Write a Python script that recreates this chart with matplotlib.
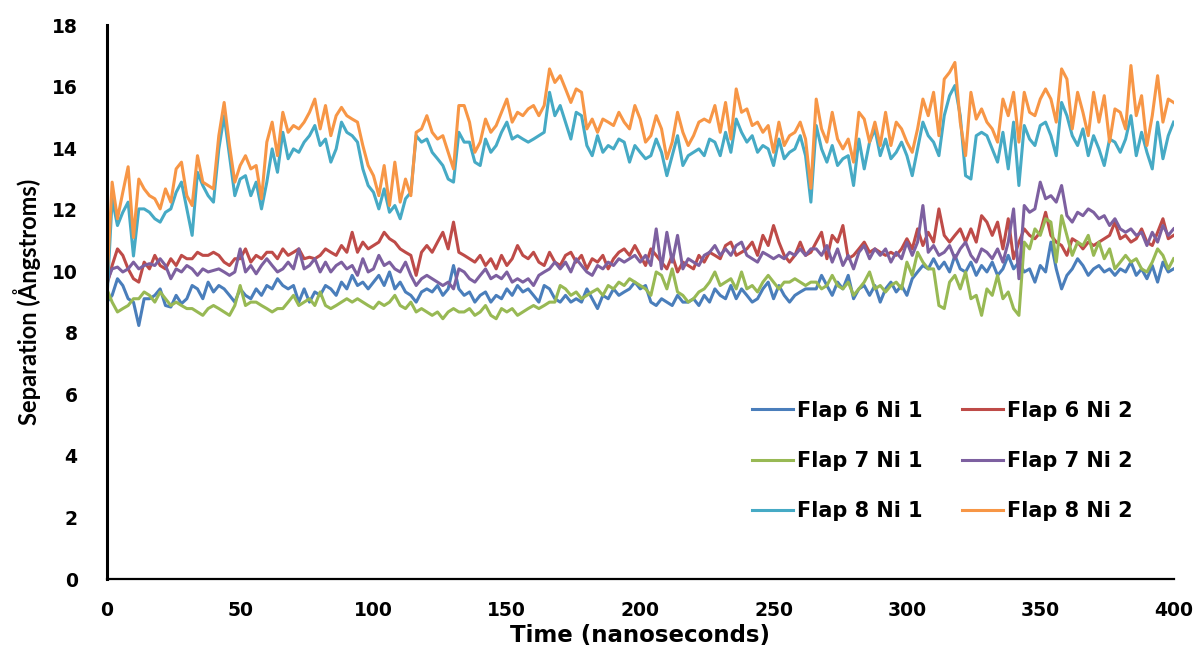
import numpy as np
import matplotlib
matplotlib.use("Agg")
import matplotlib.pyplot as plt

# time axis: one reading every 2 ns
time_ns = np.arange(0, 401, 2)

flap6_ni1 = [
    9.0, 9.22, 9.76, 9.54, 9.11, 9.0, 8.24, 9.11, 9.11, 9.22, 9.43, 8.89, 8.84, 9.22, 8.95, 9.11, 9.54,
    9.43, 9.11, 9.65, 9.33, 9.54, 9.43, 9.22, 9.0, 9.43, 9.22, 9.11, 9.43, 9.22, 9.54, 9.43, 9.76,
    9.54, 9.43, 9.54, 9.0, 9.43, 9.0, 9.33, 9.22, 9.54, 9.43, 9.22, 9.65, 9.43, 9.87, 9.54, 9.65, 9.43,
    9.65, 9.87, 9.54, 9.98, 9.43, 9.65, 9.33, 9.22, 9.0, 9.33, 9.43, 9.33, 9.54, 9.22, 9.43, 10.19, 9.43,
    9.22, 9.33, 9.0, 9.22, 9.33, 9.0, 9.22, 9.11, 9.43, 9.22, 9.54, 9.33, 9.43, 9.22, 9.0, 9.54, 9.43,
    9.11, 9.0, 9.22, 9.0, 9.11, 9.0, 9.43, 9.11, 8.79, 9.22, 9.11, 9.43, 9.22, 9.33, 9.43, 9.65,
    9.43, 9.54, 9.0, 8.89, 9.11, 9.0, 8.89, 9.22, 9.0, 9.0, 9.11, 8.89, 9.22, 9.0, 9.43, 9.22, 9.11,
    9.54, 9.11, 9.43, 9.22, 9.0, 9.11, 9.43, 9.65, 9.11, 9.54, 9.22, 9.0, 9.22, 9.33, 9.43, 9.43,
    9.43, 9.87, 9.54, 9.22, 9.65, 9.43, 9.87, 9.11, 9.43, 9.54, 9.22, 9.54, 9.0, 9.43, 9.65, 9.33,
    9.54, 9.22, 9.76, 9.98, 10.19, 10.08, 10.41, 10.08, 10.3, 9.98, 10.52, 10.08, 9.98, 10.3, 9.87, 10.19,
    9.98, 10.3, 9.87, 10.08, 10.52, 10.08, 10.3, 9.98, 10.08, 9.65, 10.19, 9.98, 10.95, 10.08, 9.43, 9.87,
    10.08, 10.41, 10.19, 9.87, 10.08, 10.19, 9.98, 10.08, 9.87, 10.08, 9.98, 10.3, 9.87, 10.08, 9.76,
    10.19, 9.65, 10.3, 9.98, 10.08,
]
flap6_ni2 = [
    9.54, 10.19, 10.73, 10.52, 10.08, 9.76, 9.65, 10.3, 10.08, 10.52, 10.19, 10.08, 10.41, 10.19, 10.52,
    10.41, 10.41, 10.62, 10.52, 10.52, 10.62, 10.52, 10.3, 10.19, 10.41, 10.41, 10.73, 10.3, 10.52, 10.41,
    10.62, 10.62, 10.41,
    10.73, 10.52, 10.62, 10.73, 10.41, 10.46, 10.41, 10.52, 10.73, 10.62, 10.52, 10.84, 10.62, 11.27, 10.62,
    10.95, 10.73, 10.84, 10.95, 11.27, 11.06, 10.95, 10.73, 10.62, 10.52, 9.87, 10.62, 10.84, 10.62, 10.95,
    11.27, 10.73, 11.6, 10.62,
    10.52, 10.41, 10.3, 10.52, 10.19, 10.41, 10.08, 10.52, 10.19, 10.41, 10.84, 10.52, 10.41, 10.62, 10.3,
    10.19, 10.62, 10.3, 10.19, 10.52, 10.62, 10.3, 10.52, 10.08, 10.41, 10.3, 10.52, 10.08, 10.41, 10.62,
    10.73, 10.52, 10.84,
    10.52, 10.19, 10.73, 10.52, 10.3, 10.08, 10.52, 9.98, 10.3, 10.19, 10.08, 10.52, 10.3, 10.62, 10.52,
    10.41, 10.84, 10.95, 10.52, 10.62, 10.73, 10.95, 10.52, 11.17, 10.84, 11.49, 10.95, 10.52, 10.3, 10.52,
    10.95, 10.52, 10.62,
    10.95, 11.27, 10.41, 11.17, 10.95, 11.49, 10.41, 10.52, 10.73, 10.95, 10.62, 10.73, 10.62, 10.52, 10.62,
    10.52, 10.73, 11.06, 10.73, 11.38, 10.84, 11.27, 10.95, 12.03, 11.17, 10.95, 11.17, 11.38, 10.95, 11.38,
    10.95, 11.81,
    11.6, 11.17, 11.6, 10.73, 11.71, 10.41, 10.95, 11.38, 11.17, 11.06, 11.27, 11.92, 11.17, 10.95, 10.84,
    10.52, 11.06, 10.95, 10.73, 10.95, 10.84, 10.95, 11.06, 11.17, 11.6, 11.06, 11.17, 10.95, 11.06, 11.38,
    10.95, 10.84, 11.27, 11.71, 11.06, 11.17,
]
flap7_ni1 = [
    9.43, 9.0, 8.68, 8.79, 8.89, 9.11, 9.11, 9.33, 9.22, 9.0, 9.33, 9.11, 8.89, 9.0, 8.89, 8.79, 8.79,
    8.68, 8.57, 8.79, 8.89, 8.79, 8.68, 8.57, 8.89, 9.54, 8.89, 9.0, 9.0, 8.89, 8.79, 8.68, 8.79,
    8.79, 9.0, 9.22, 8.89, 9.0, 9.11, 8.89, 9.33, 8.89, 8.79, 8.89, 9.0, 9.11, 9.0, 9.11, 9.0, 8.89,
    8.79, 9.0, 8.89, 9.0, 9.22, 8.89, 8.79, 9.0, 8.68, 8.79, 8.68, 8.57, 8.68, 8.46, 8.68, 8.79, 8.68,
    8.68, 8.79, 8.57, 8.68, 8.89, 8.57, 8.46, 8.79, 8.68, 8.79, 8.57, 8.68, 8.79, 8.89, 8.79, 8.89,
    9.0, 9.0, 9.54, 9.43, 9.22, 9.33, 9.11, 9.22, 9.33, 9.43, 9.22, 9.54, 9.43, 9.65, 9.54, 9.76, 9.65,
    9.54, 9.43, 9.22, 9.98, 9.87, 9.43, 10.08, 9.33, 9.22, 9.0, 9.11, 9.33, 9.43, 9.65, 9.98, 9.54,
    9.65, 9.76, 9.43, 9.98, 9.43, 9.54, 9.33, 9.65, 9.87, 9.65, 9.43, 9.65, 9.65, 9.76, 9.65, 9.54, 9.65,
    9.65, 9.43, 9.54, 9.87, 9.54, 9.43, 9.65, 9.22, 9.43, 9.65, 9.98, 9.43, 9.54, 9.33, 9.54, 9.65,
    9.43, 10.3, 9.87, 10.62, 10.3, 10.08, 10.08, 8.89, 8.79, 9.65, 9.87, 9.43, 9.98, 9.11, 9.22, 8.57,
    9.43, 9.22, 9.87, 9.11, 9.33, 8.79, 8.57, 10.95, 10.73, 11.38, 11.17, 11.71, 11.6, 10.3, 11.81, 11.17,
    10.52, 10.95, 10.84, 11.17, 10.52, 10.95, 10.41, 10.73, 10.08, 10.3, 10.52, 10.3, 10.41, 10.08, 9.98,
    10.3, 10.73, 10.52, 10.08, 10.41,
]
flap7_ni2 = [
    9.65, 10.08, 10.14, 9.98, 10.08, 10.3, 10.08, 10.19, 10.25, 10.19, 10.41, 10.19, 9.76, 10.08, 9.98,
    10.19, 10.08, 9.87, 10.08, 9.98, 10.03, 10.08, 9.98, 9.87, 9.98, 10.73, 9.98, 10.19, 9.92, 10.19,
    10.41, 10.19, 9.98,
    10.08, 10.3, 10.08, 10.73, 10.08, 10.19, 10.41, 9.98, 10.3, 9.98, 10.19, 10.3, 10.08, 10.19, 9.87,
    10.41, 9.98, 10.08, 10.52, 10.19, 10.3, 10.08, 9.98, 10.3, 9.87, 9.54, 9.76, 9.87, 9.76, 9.65, 9.54,
    9.65, 9.43, 10.08,
    9.98, 9.76, 9.65, 9.87, 10.08, 9.76, 9.87, 9.76, 9.98, 9.65, 9.76, 9.65, 9.76, 9.54, 9.87, 9.98,
    10.08, 10.3, 10.08, 10.3, 9.98, 10.41, 10.19, 9.98, 9.87, 10.19, 10.08, 10.3, 10.19, 10.41, 10.3,
    10.41, 10.52,
    10.3, 10.52, 10.19, 11.38, 10.08, 11.27, 10.3, 11.17, 10.08, 10.41, 10.3, 10.19, 10.52, 10.62, 10.84,
    10.52, 10.73, 10.52, 10.84, 10.95, 10.52, 10.41, 10.3, 10.62, 10.52, 10.41, 10.52, 10.41, 10.62, 10.52,
    10.73, 10.52, 10.73,
    10.73, 10.52, 10.84, 10.3, 10.73, 10.19, 10.52, 10.08, 10.62, 10.84, 10.41, 10.73, 10.52, 10.73, 10.3,
    10.62, 10.41, 10.95, 10.52, 10.95, 12.14, 10.62, 10.84, 10.52, 10.62, 10.84, 10.41, 10.73, 10.95, 10.52,
    10.3, 10.73,
    10.62, 10.41, 10.73, 10.3, 10.95, 12.03, 9.76, 12.14, 11.92, 12.03, 12.9, 12.36, 12.46, 12.25, 12.79,
    11.81, 11.6, 11.92, 11.81, 12.03, 11.92, 11.71, 11.81, 11.49, 11.71, 11.38, 11.27, 11.38, 11.17, 11.27,
    10.84, 11.27, 10.95, 11.49, 11.17, 11.38,
]
flap8_ni1 = [
    9.0, 12.36, 11.49, 11.92, 12.25, 10.5, 12.03, 12.03, 11.92, 11.71, 11.6, 11.92, 12.03, 12.57, 12.9,
    12.03, 11.17, 13.22, 12.79, 12.46, 12.25, 13.98, 15.06, 13.76, 12.46, 13.0, 13.11, 12.46, 12.9, 12.03,
    12.9, 13.98, 13.22,
    14.52, 13.66, 13.98, 13.87, 14.2, 14.41, 14.74, 14.09, 14.3, 13.55, 13.98, 14.85, 14.52, 14.41, 14.2,
    13.33, 12.79, 12.57, 12.03, 12.68, 11.92, 12.14, 11.71, 12.36, 12.57, 14.41, 14.2, 14.3, 13.87, 13.66,
    13.44, 13.0, 12.9, 14.52,
    14.2, 14.2, 13.55, 13.44, 14.3, 13.87, 14.09, 14.52, 14.85, 14.3, 14.41, 14.3, 14.2, 14.3, 14.41,
    14.52, 15.82, 15.06, 15.39, 14.85, 14.3, 15.17, 15.06, 14.09, 13.76, 14.41, 13.87, 14.09, 13.98, 14.3,
    14.2, 13.55, 14.09,
    13.87, 13.66, 13.76, 14.3, 13.87, 13.11, 13.76, 14.41, 13.44, 13.76, 13.87, 13.98, 13.76, 14.3, 14.2,
    13.76, 14.52, 13.87, 14.95, 14.52, 14.2, 14.41, 13.87, 14.09, 13.98, 13.44, 14.3, 13.66, 13.87, 13.98,
    14.41, 13.76, 12.25,
    14.74, 13.98, 13.55, 14.09, 13.44, 13.66, 13.76, 12.79, 14.3, 13.33, 14.2, 14.63, 13.76, 14.3, 13.66,
    13.87, 14.2, 13.76, 13.11, 13.98, 14.85, 14.41, 14.2, 13.76, 15.06, 15.71, 16.04, 15.06, 13.11, 13.0,
    14.41, 14.52,
    14.41, 13.98, 13.55, 14.52, 13.33, 14.85, 12.79, 14.74, 14.3, 14.09, 14.74, 14.85, 14.41, 13.76, 15.49,
    15.06, 14.41, 14.09, 14.63, 13.76, 14.41, 13.98, 13.44, 14.3, 14.2, 13.87, 14.3, 15.06, 13.76, 14.52,
    13.87, 13.33, 14.85, 13.66, 14.41, 14.85,
]
flap8_ni2 = [
    9.54, 12.9, 11.71, 12.57, 13.4, 11.1, 13.0, 12.68, 12.46, 12.36, 12.03, 12.68, 12.25, 13.33, 13.55,
    12.46, 12.14, 13.76, 12.9, 12.79, 12.68, 14.41, 15.49, 14.09, 12.9, 13.44, 13.76, 13.33, 13.44, 12.36,
    14.2, 14.85, 13.76,
    15.17, 14.52, 14.74, 14.63, 14.85, 15.17, 15.6, 14.63, 15.39, 14.41, 15.06, 15.33, 15.06, 14.95, 14.85,
    14.09, 13.44, 13.11, 12.46, 13.44, 12.14, 13.55, 12.25, 13.0, 12.46, 14.52, 14.63, 15.06, 14.52, 14.3,
    14.41, 13.87, 13.33, 15.39,
    15.39, 14.85, 13.87, 14.2, 14.95, 14.52, 14.74, 15.17, 15.6, 14.85, 15.17, 15.06, 15.28, 15.39, 15.06,
    15.39, 16.58, 16.14, 16.36, 15.93, 15.49, 15.93, 15.82, 14.63, 14.95, 14.52, 14.95, 14.85, 14.74, 15.17,
    14.85, 14.63, 15.39,
    14.95, 14.2, 14.41, 15.06, 14.63, 13.66, 14.2, 15.17, 14.52, 14.09, 14.41, 14.85, 14.95, 14.85, 15.39,
    14.52, 15.49, 14.3, 15.93, 15.17, 15.28, 14.74, 14.85, 14.52, 14.74, 13.87, 14.85, 14.09, 14.41, 14.52,
    14.85, 14.3, 12.7,
    15.6, 14.63, 14.2, 15.17, 14.3, 13.98, 14.3, 13.55, 15.17, 14.95, 14.2, 14.85, 14.09, 15.17, 14.09,
    14.85, 14.63, 14.2, 13.87, 14.63, 15.6, 15.06, 15.82, 14.41, 16.25, 16.47, 16.79, 14.85, 13.76, 15.82,
    14.95, 15.28,
    14.85, 14.63, 14.2, 15.6, 15.06, 15.82, 14.2, 15.82, 15.17, 15.06, 15.6, 15.93, 15.6, 14.85, 16.58,
    16.25, 14.63, 15.82, 15.17, 14.41, 15.82, 14.85, 15.71, 14.2, 15.28, 15.17, 14.63, 16.69, 15.06, 15.71,
    14.09, 15.06, 16.36, 14.85, 15.6, 15.49,
]

labels = ["Flap 6 Ni 1", "Flap 6 Ni 2", "Flap 7 Ni 1", "Flap 7 Ni 2", "Flap 8 Ni 1", "Flap 8 Ni 2"]
series = [flap6_ni1, flap6_ni2, flap7_ni1, flap7_ni2, flap8_ni1, flap8_ni2]
colors = ["#4A7EBB", "#BE4B48", "#98B954", "#7D60A0", "#46AAC5", "#F79646"]

fig, ax = plt.subplots(figsize=(12, 6.64), dpi=100)
fig.subplots_adjust(left=0.089, right=0.978, top=0.962, bottom=0.128)

lines = []
for vals, lab, col in zip(series, labels, colors):
    ln, = ax.plot(time_ns, vals, color=col, lw=2.2, label=lab)
    lines.append(ln)

ax.set_xlim(0, 400)
ax.set_ylim(0, 18)
ax.set_xticks(range(0, 401, 50))
ax.set_yticks(range(0, 19, 2))
ax.tick_params(length=0, labelsize=13.5)
ax.tick_params(axis="y", pad=21)
ax.tick_params(axis="x", pad=16)
for t in ax.get_xticklabels() + ax.get_yticklabels():
    t.set_fontweight("bold")

for s in ("top", "right"):
    ax.spines[s].set_visible(False)
ax.spines["left"].set_linewidth(2.2)
ax.spines["bottom"].set_linewidth(1.6)

ax.set_xlabel("Time (nanoseconds)", fontsize=16.5, fontweight="bold", labelpad=3)
ax.set_ylabel("Separation (Ångstroms)", fontsize=17, fontweight="bold",
              family="Lato", labelpad=8)

# row-wise legend: reorder handles for a 2-column layout
order = [0, 2, 4, 1, 3, 5]
leg = fig.legend([lines[i] for i in order], [labels[i] for i in order],
                 ncol=2, frameon=False, loc="center",
                 bbox_to_anchor=(0.785, 0.306),
                 prop={"weight": "bold", "size": 15},
                 handlelength=2.0, handletextpad=0.15,
                 columnspacing=1.9, labelspacing=1.45)

fig.savefig("out.png", dpi=100)
